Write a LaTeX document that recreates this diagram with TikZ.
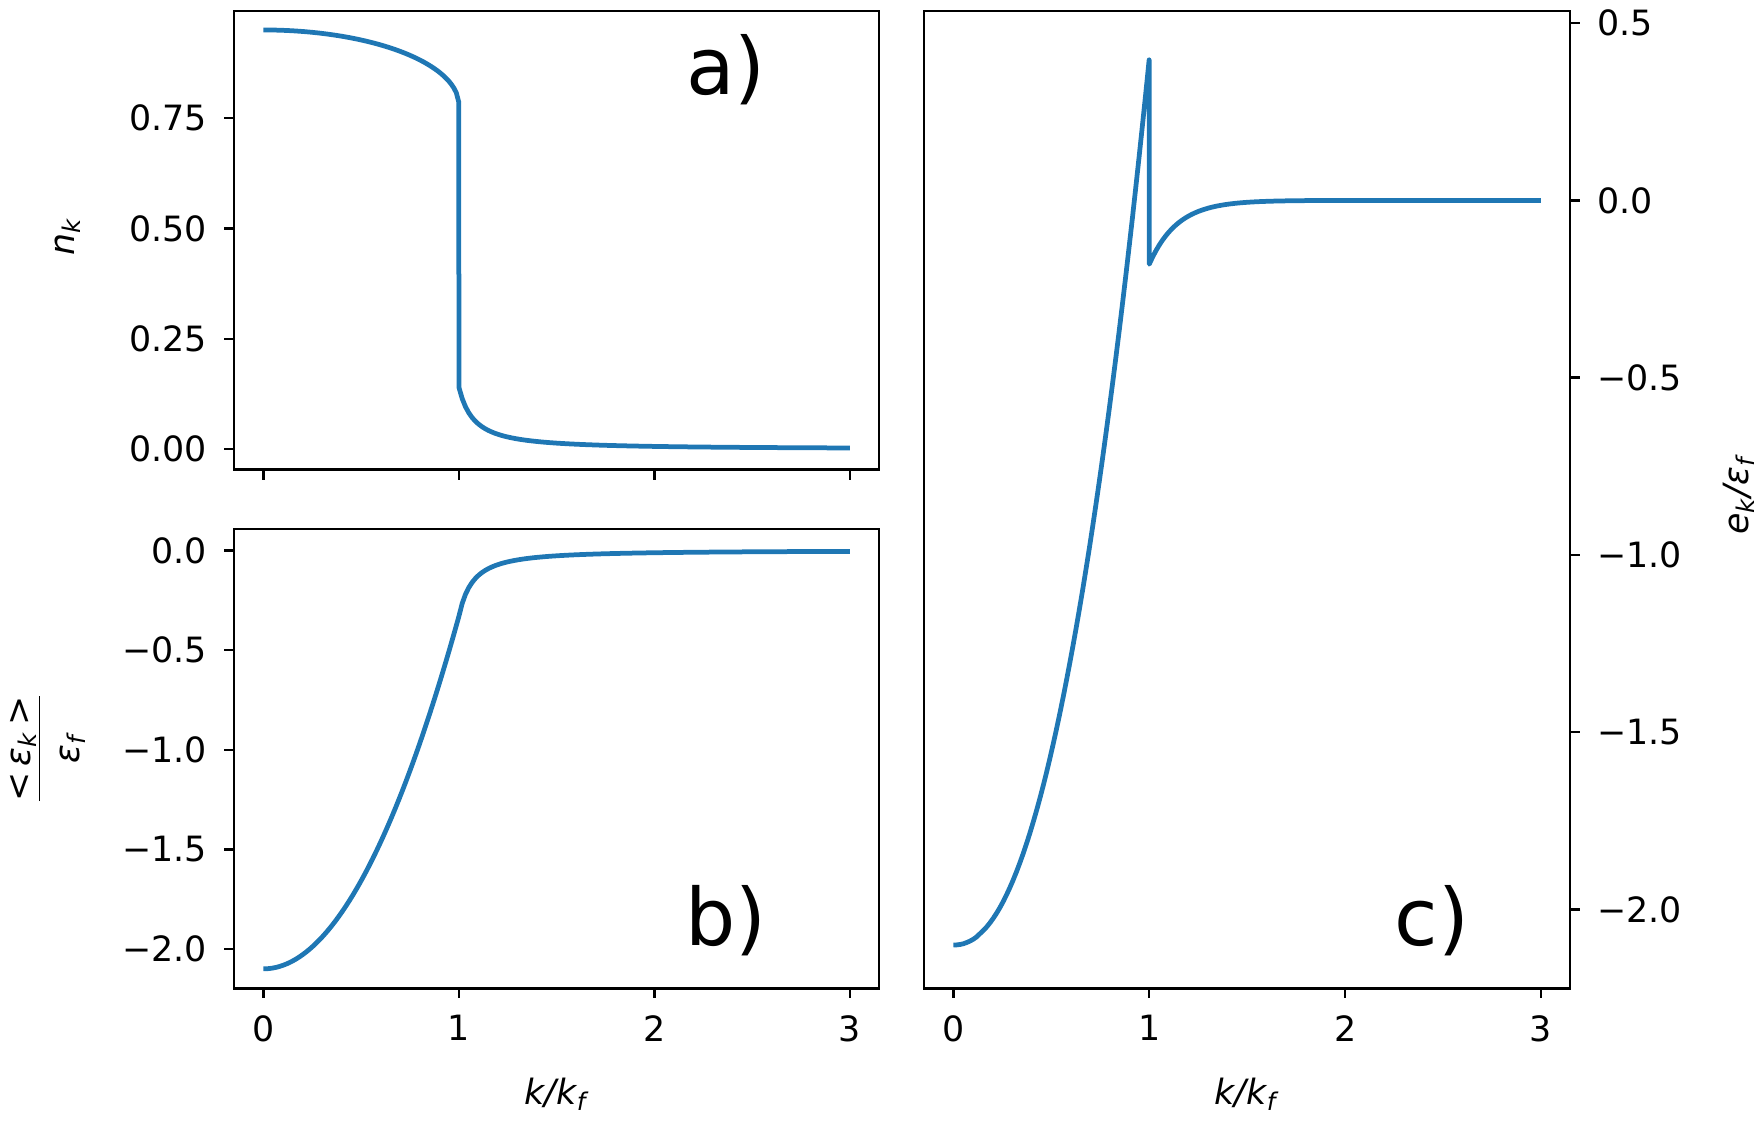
\documentclass[tikz,border=0pt]{standalone}
\usepackage{fontspec}
\setmainfont{DejaVu Sans}
\definecolor{mplblue}{HTML}{1F77B4}
\tikzset{
  frame/.style={line width=0.6pt},
  curve/.style={mplblue,line width=1.2pt,line join=round},
  tick/.style={line width=0.6pt},
  ticklab/.style={font=\fontsize{8.8}{10}\selectfont,inner sep=1pt},
  panellab/.style={font=\fontsize{20}{21}\selectfont}
}
\begin{document}
\begin{tikzpicture}[x=0.01cm,y=-0.01cm]
\useasboundingbox (0,0) rectangle (1560,996);
% frames
\draw[frame] (208,10) rectangle (781,417);
\draw[frame] (208,470) rectangle (781,878);
\draw[frame] (821,10) rectangle (1395,878);
% x ticks
\foreach \i in {0,1,2,3}{
  \draw[tick] ({234+173.7*\i},417) -- ++(0,9);
  \draw[tick] ({234+173.7*\i},878) -- ++(0,9) node[ticklab,below=3pt] {\i};
  \draw[tick] ({847+174*\i},878) -- ++(0,9) node[ticklab,below=3pt] {\i};
}
% y ticks a)
\foreach \v/\t in {0/0.00,0.25/0.25,0.5/0.50,0.75/0.75}
  \draw[tick] (208,{399-392*\v}) -- ++(-9,0) node[ticklab,left=3pt] {\t};
% y ticks b)
\foreach \v/\t in {0/0.0,-0.5/−0.5,-1/−1.0,-1.5/−1.5,-2/−2.0}
  \draw[tick] (208,{489-177*\v}) -- ++(-9,0) node[ticklab,left=3pt] {\t};
% y ticks c)
\foreach \v/\t in {0.5/0.5,0/0.0,-0.5/−0.5,-1/−1.0,-1.5/−1.5,-2/−2.0}
  \draw[tick] (1395,{178-315*\v}) -- ++(9,0) node[ticklab,right=3pt] {\t};
% curves
\draw[curve] plot[domain=0:1,samples=80] ({234+173.7*\x},{399-392*(0.95-0.17*(1-sqrt(1-\x*\x)))})
  -- plot[domain=1:3,samples=120] ({234+173.7*\x},{399-392*(0.14/(1+10*(\x-1))^1.3)});
\draw[curve] plot[domain=0:1,samples=60] ({234+173.7*\x},{489-177*(-2.1+1.77*\x*\x)})
  -- plot[domain=1:3,samples=120] ({234+173.7*\x},{489+177*0.33/(1+10*(\x-1))^1.4});
\draw[curve] plot[domain=0:1,samples=60] ({847+174*\x},{178-315*(-2.1+2.5*\x^2.2)})
  -- plot[domain=1:3,samples=120] ({847+174*\x},{178+315*0.18*exp(-7*(\x-1))});
% panel labels
\node[panellab] (la) at (645,62) {a)};
\node[panellab] (lb) at (645,818) {b)};
\node[panellab] (lc) at (1272,818) {c)};
% axis labels
\node[ticklab,rotate=90] (yla) at (60,210) {\itshape n\textsubscript{k}};
\node[ticklab,rotate=90] (ylb) at (42,665) {\begin{tabular}{@{}c@{}}<\,{\itshape ε\textsubscript{k}}\,>\\[-1pt]\hline\rule{0pt}{10pt}{\itshape ε\textsubscript{f}}\end{tabular}};
\node[ticklab,rotate=90] (ylc) at (1545,440) {\itshape e\textsubscript{k}/ε\textsubscript{f}};
\node[ticklab] (xla) at (494,972) {\itshape k/k\textsubscript{f}};
\node[ticklab] (xlc) at (1107,972) {\itshape k/k\textsubscript{f}};
\end{tikzpicture}
\end{document}
